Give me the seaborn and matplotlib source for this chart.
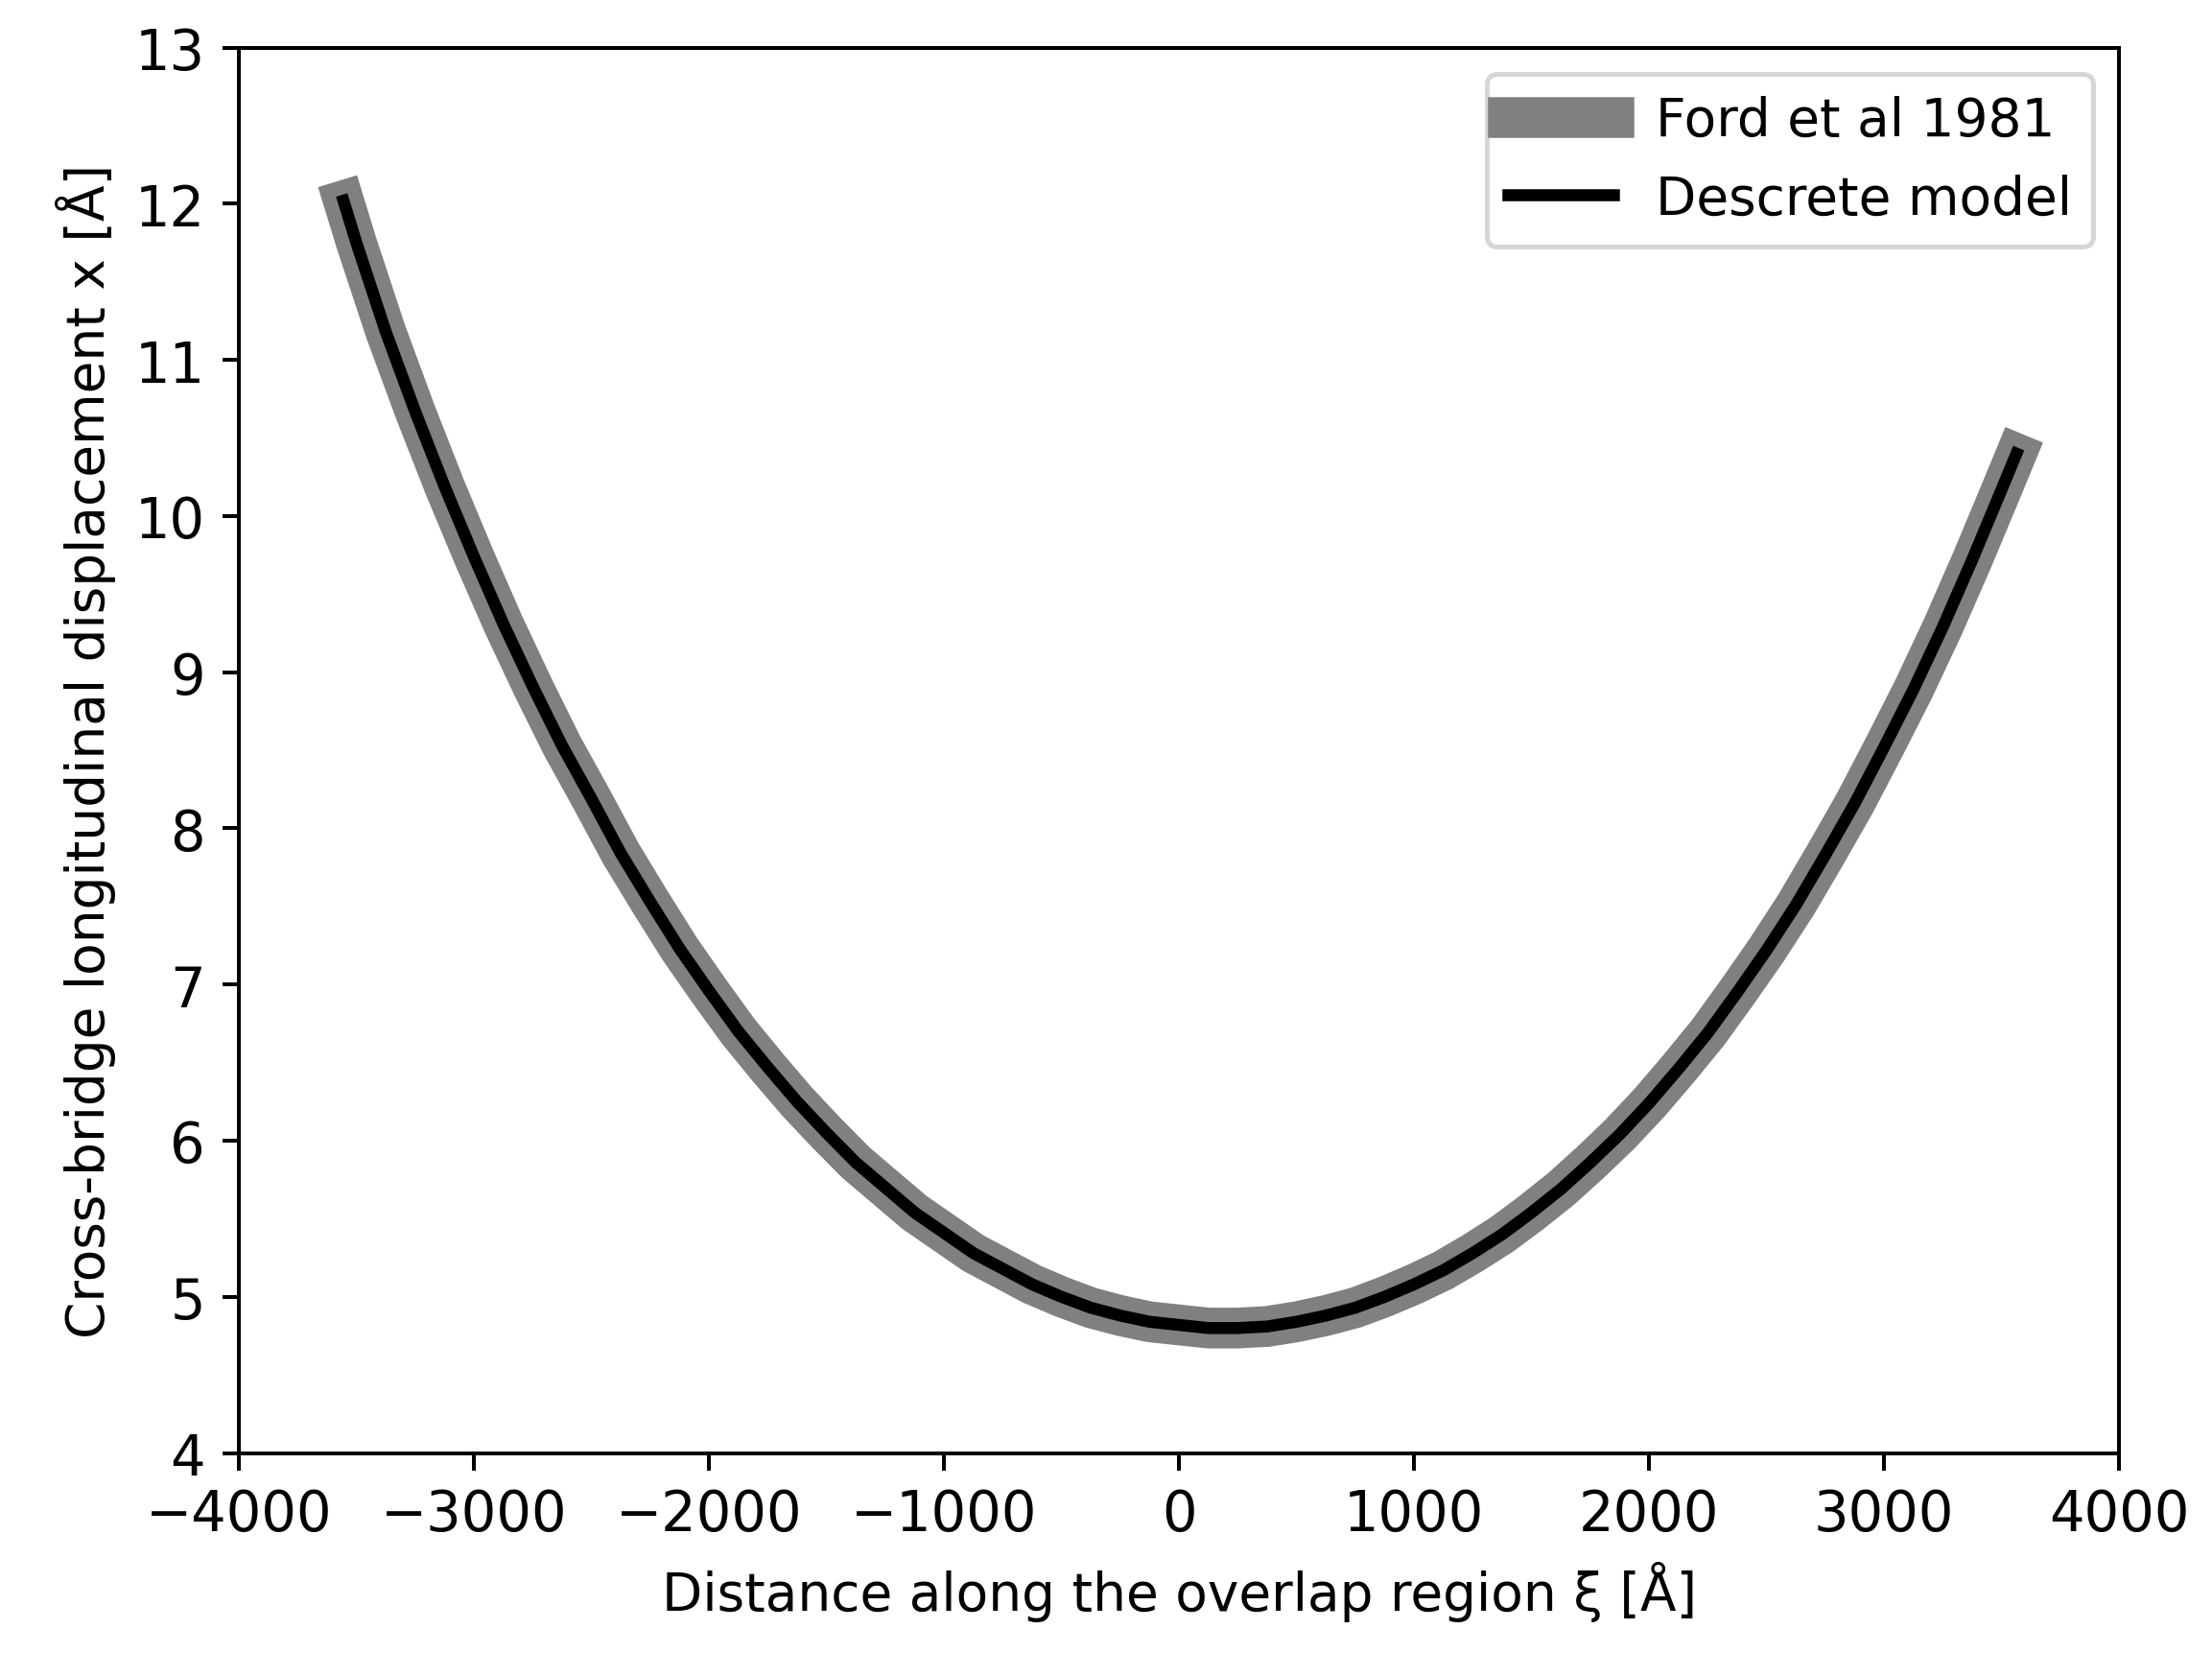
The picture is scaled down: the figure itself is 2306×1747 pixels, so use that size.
import pandas as pd
import seaborn as sns
import matplotlib.pyplot as plt

# values
xi = [-3555, -3500, -3375, -3250, -3125, -3000, -2875, -2750, -2625, -2500,
      -2375, -2250, -2125, -2000, -1875, -1750, -1625, -1500, -1375, -1250,
      -1125, -1000, -875, -750, -625, -500, -375, -250, -125, 0,
      125, 250, 375, 500, 625, 750, 875, 1000, 1125, 1250,
      1375, 1500, 1625, 1750, 1875, 2000, 2125, 2250, 2375, 2500,
      2625, 2750, 2875, 3000, 3125, 3250, 3375, 3500, 3563]
x_ford = [12.02, 11.75, 11.18, 10.67, 10.19, 9.74, 9.31, 8.91, 8.53, 8.19,
          7.84, 7.53, 7.23, 6.96, 6.70, 6.47, 6.25, 6.05, 5.86, 5.70,
          5.54, 5.41, 5.28, 5.18, 5.08, 5.00, 4.93, 4.88, 4.84, 4.82,
          4.80, 4.80, 4.81, 4.84, 4.88, 4.93, 5.00, 5.08, 5.17, 5.28,
          5.40, 5.54, 5.69, 5.86, 6.04, 6.24, 6.46, 6.69, 6.95, 7.22,
          7.51, 7.83, 8.16, 8.52, 8.89, 9.29, 9.72, 10.17, 10.40]
x_discrete = list(x_ford)

df = pd.DataFrame({'xi': xi, 'ford': x_ford, 'discrete': x_discrete})

plt.rcParams['font.family'] = ['DejaVu Sans']
fig = plt.figure(figsize=(2306 / 360, 1748 / 360), dpi=360)
ax = fig.add_axes([0.108, 0.133, 0.850, 0.838])

sns.lineplot(data=df, x='xi', y='ford', ax=ax, color='gray', linewidth=8.5,
             label='Ford et al 1981')
sns.lineplot(data=df, x='xi', y='discrete', ax=ax, color='black', linewidth=2.5,
             label='Descrete model')

ax.set_xlim(-4000, 4000)
ax.set_ylim(4, 13)
ax.tick_params(labelsize=11.5)
ax.set_xlabel('Distance along the overlap region ξ [Å]', fontsize=11)
ax.set_ylabel('Cross-bridge longitudinal displacement x [Å]', fontsize=11)
ax.legend(loc='upper right', fontsize=11)

fig.savefig('out.png', dpi=360)
